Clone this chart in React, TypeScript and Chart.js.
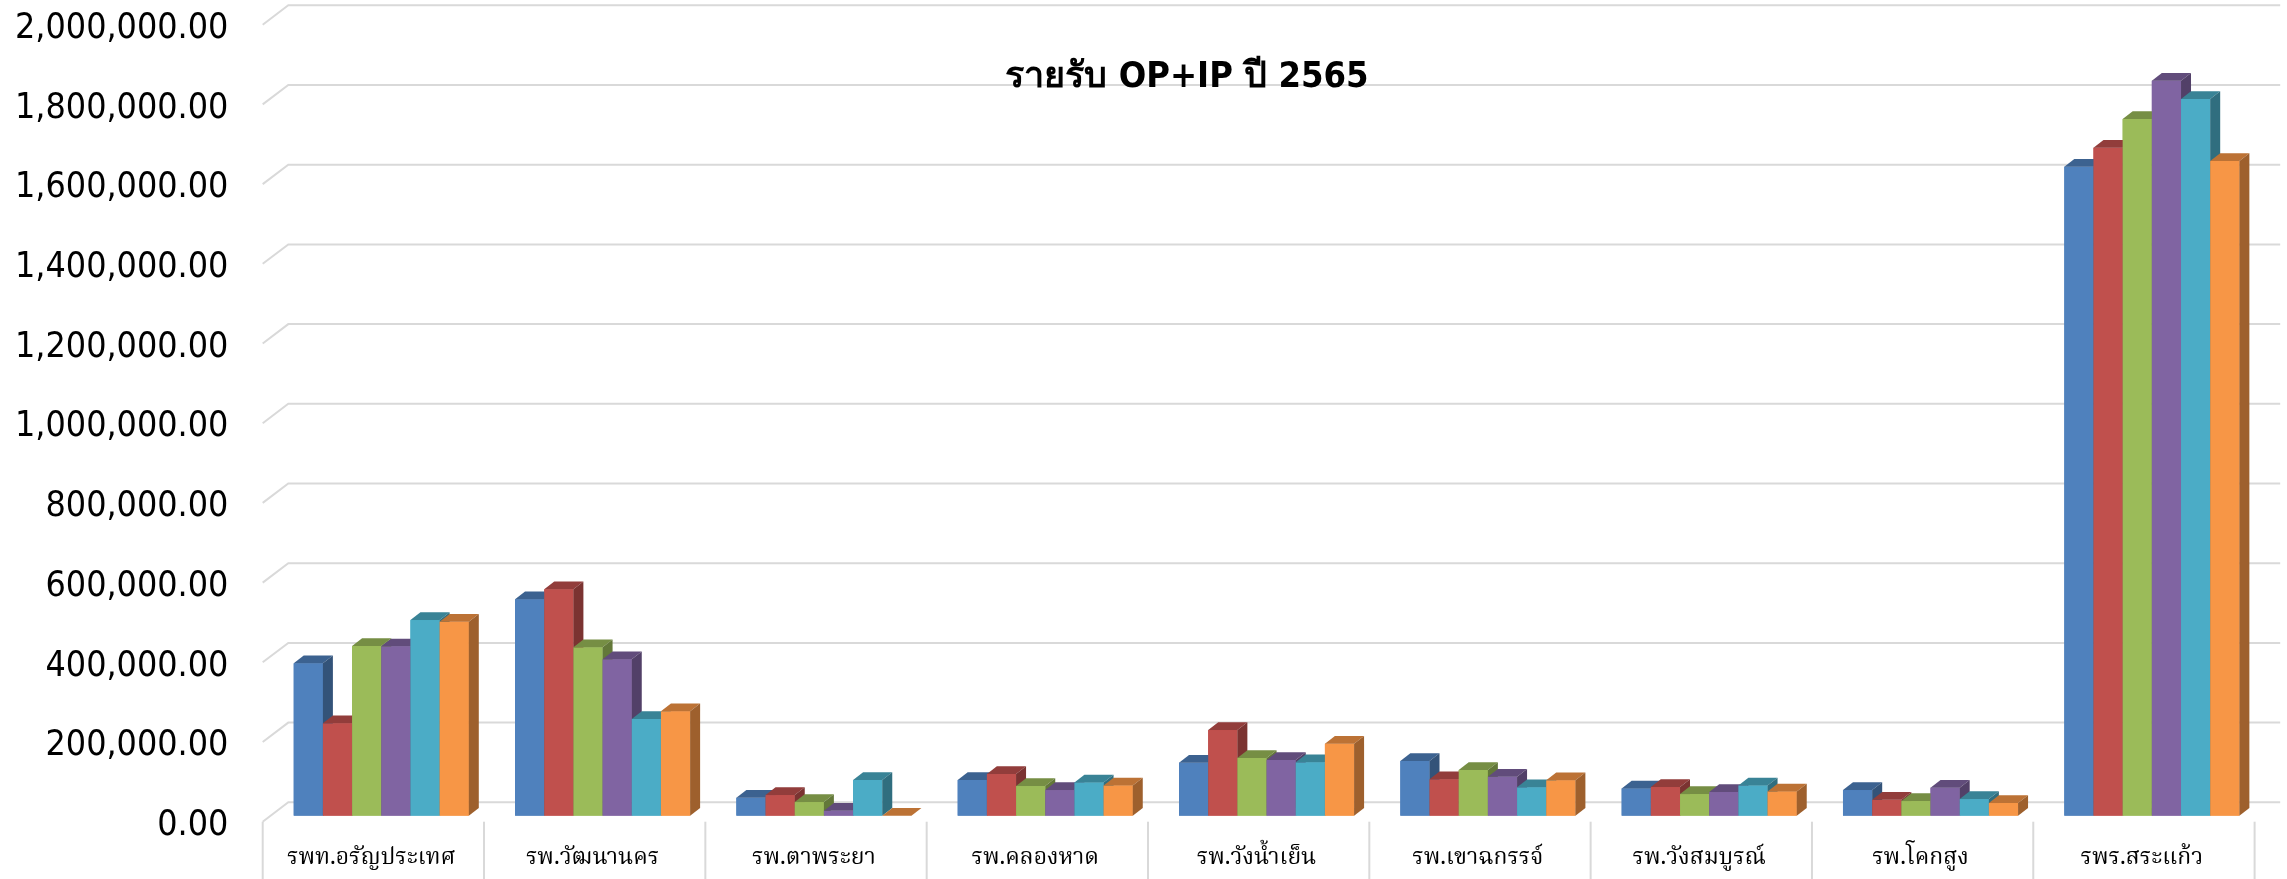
import React, { useEffect, useRef } from "react";
import { Chart, registerables } from "chart.js";

Chart.register(...registerables);

// ---------- data ----------
const categories = [
  "รพท.อรัญประเทศ",
  "รพ.วัฒนานคร",
  "รพ.ตาพระยา",
  "รพ.คลองหาด",
  "รพ.วังน้ำเย็น",
  "รพ.เขาฉกรรจ์",
  "รพ.วังสมบูรณ์",
  "รพ.โคกสูง",
  "รพร.สระแก้ว",
];

const series1 = [382400, 543000, 45000, 89600, 133000, 137300, 68500, 64400, 1628600];
const series2 = [231900, 568100, 51800, 104600, 215000, 91300, 72000, 40000, 1676300];
const series3 = [425800, 422600, 34300, 74500, 145000, 114700, 54300, 36800, 1748300];
const series4 = [425000, 392500, 12500, 64400, 140000, 97900, 59400, 70300, 1844400];
const series5 = [491000, 242700, 89600, 83600, 134000, 71300, 76000, 41800, 1798500];
const series6 = [486800, 262000, 0, 76000, 180700, 88800, 61000, 31800, 1642900];

const seriesNames = ["Series 1", "Series 2", "Series 3", "Series 4", "Series 5", "Series 6"];
const seriesValues = [series1, series2, series3, series4, series5, series6];
const seriesColors = ["#4F81BD", "#C0504D", "#9BBB59", "#8064A2", "#4BACC6", "#F79646"];

const yMin = 0;
const yMax = 2000000;
const yStep = 200000;

const titleText = "รายรับ OP+IP ปี 2565";

// ---------- helpers ----------
function shade(hex: string, f: number) {
  const n = parseInt(hex.slice(1), 16);
  const r = Math.round(((n >> 16) & 255) * f);
  const g = Math.round(((n >> 8) & 255) * f);
  const b = Math.round((n & 255) * f);
  return `rgb(${r},${g},${b})`;
}

// 3D geometry offsets (relative to the bar plane)
const FX = -7.9, FY = 6;     // front edge of floor / walls
const BX = 17.7, BY = -13.4; // back wall
const DX = 10, DY = -7.7;    // bar depth

const thaiLabelFont =
  '"Angsana New", "Laksaman", "TH Sarabun New", "Norasi", "Kinnari", "Noto Serif Thai", "Noto Sans Thai", serif';

const wallPlugin = {
  id: "wall3d",
  beforeDatasetsDraw(chart: any) {
    const ctx = chart.ctx;
    const ys = chart.scales.y;
    const xs = chart.scales.x;
    const { left, right } = chart.chartArea;
    ctx.save();
    ctx.strokeStyle = "#d9d9d9";
    ctx.lineWidth = 2;
    ys.ticks.forEach((t: any) => {
      const py = ys.getPixelForValue(t.value);
      ctx.beginPath();
      ctx.moveTo(left + FX, py + FY);
      ctx.lineTo(left + BX, py + BY);
      ctx.lineTo(right + BX, py + BY);
      ctx.stroke();
    });
    const y0 = ys.getPixelForValue(0);
    for (let k = 0; k <= categories.length; k++) {
      const bx = xs.getPixelForValue(k - 0.5) + FX;
      ctx.beginPath();
      ctx.moveTo(bx, y0 + FY);
      ctx.lineTo(bx, chart.height);
      ctx.stroke();
    }
    ctx.restore();
  },
  afterDatasetsDraw(chart: any) {
    const ctx = chart.ctx;
    const metas = seriesValues.map((_, i) => chart.getDatasetMeta(i));
    ctx.save();
    for (let j = 0; j < categories.length; j++) {
      for (let i = 0; i < metas.length; i++) {
        const el = metas[i].data[j];
        if (!el) continue;
        const p = el.getProps(["x", "y", "base", "width"], true);
        const l = p.x - p.width / 2;
        const r = p.x + p.width / 2;
        const top = p.y;
        const base = p.base;
        ctx.fillStyle = seriesColors[i];
        ctx.fillRect(l, top, r - l, base - top);
        ctx.fillStyle = shade(seriesColors[i], 0.76);
        ctx.beginPath();
        ctx.moveTo(l, top);
        ctx.lineTo(r, top);
        ctx.lineTo(r + DX, top + DY);
        ctx.lineTo(l + DX, top + DY);
        ctx.closePath();
        ctx.fill();
        ctx.fillStyle = shade(seriesColors[i], 0.64);
        ctx.beginPath();
        ctx.moveTo(r, top);
        ctx.lineTo(r + DX, top + DY);
        ctx.lineTo(r + DX, base + DY);
        ctx.lineTo(r, base);
        ctx.closePath();
        ctx.fill();
      }
    }
    ctx.restore();
  },
  afterDraw(chart: any) {
    const ctx = chart.ctx;
    ctx.save();
    ctx.fillStyle = "#000";
    ctx.font = 'bold 36px "DejaVu Sans Condensed", "DejaVu Sans", sans-serif';
    ctx.textAlign = "center";
    ctx.textBaseline = "alphabetic";
    ctx.fillText(titleText, 1187, 87);
    ctx.restore();
  },
};

export default function App() {
  const ref = useRef<HTMLCanvasElement | null>(null);
  useEffect(() => {
    if (!ref.current) return;
    const chart = new Chart(ref.current, {
      type: "bar",
      data: {
        labels: categories,
        datasets: seriesValues.map((vals, i) => ({
          label: seriesNames[i],
          data: vals,
          backgroundColor: seriesColors[i],
          borderWidth: 0,
          categoryPercentage: 0.791,
          barPercentage: 1.0,
        })),
      },
      options: {
        animation: false,
        responsive: false,
        devicePixelRatio: 1,
        layout: { padding: { top: 18.7, right: 24.5, left: 0, bottom: 0 } },
        plugins: {
          legend: { display: false },
          tooltip: { enabled: false },
          title: { display: false },
        },
        scales: {
          x: {
            grid: { display: false, drawTicks: false },
            border: { display: false },
            ticks: {
              color: "#000",
              font: { family: thaiLabelFont, size: 23 },
              padding: 31,
              labelOffset: -10,
              maxRotation: 0,
              autoSkip: false,
            },
            afterFit(scale: any) {
              scale.height = 879 - 815.7;
              scale.paddingLeft = 0;
              scale.paddingRight = 0;
            },
          },
          y: {
            min: yMin,
            max: yMax,
            grid: { display: false, drawTicks: false },
            border: { display: false },
            ticks: {
              stepSize: yStep,
              color: "#000",
              font: { family: '"DejaVu Sans Condensed", "DejaVu Sans", sans-serif', size: 35.5 },
              padding: 42.3,
              labelOffset: 10,
              callback: (v: any) =>
                Number(v).toLocaleString("en-US", { minimumFractionDigits: 2, maximumFractionDigits: 2 }),
            },
            afterFit(scale: any) {
              scale.width = 270.6;
              scale.paddingTop = 0;
              scale.paddingBottom = 0;
            },
          },
        },
      },
      plugins: [wallPlugin],
    });
    return () => chart.destroy();
  }, []);
  return (
    <div style={{ position: "absolute", left: 0, top: 0, width: 2287, height: 879, background: "#fff" }}>
      <canvas ref={ref} width={2287} height={879} style={{ display: "block", width: 2287, height: 879 }} />
    </div>
  );
}
